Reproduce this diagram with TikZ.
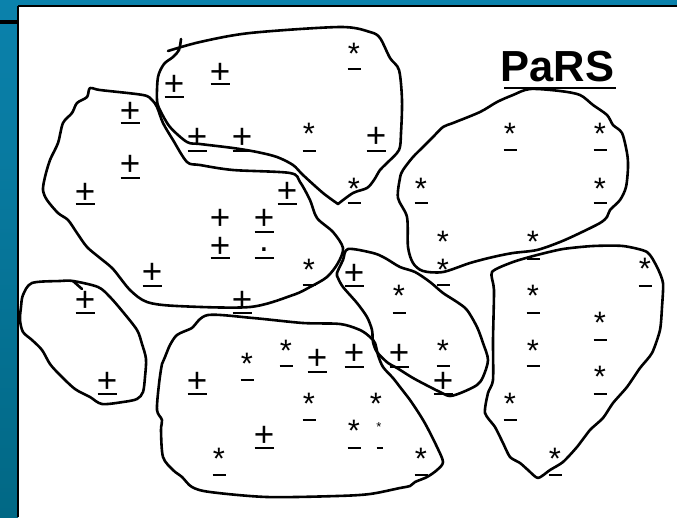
\documentclass[tikz,border=0pt]{standalone}
\usepackage{fontspec}
\setmainfont{Liberation Sans}
\definecolor{bluetop}{RGB}{11,130,172}
\definecolor{bluebot}{RGB}{1,104,133}
\tikzset{
  blob/.style={draw=black, line width=2.6pt, line join=round, line cap=round},
  psym/.style={font=\fontsize{35}{35}\selectfont, anchor=base, inner sep=0pt, yshift=-12.4pt},
  ssym/.style={font=\fontsize{31}{31}\selectfont, anchor=base, inner sep=0pt, yshift=-17.8pt},
  ul/.style={line width=2.6pt},
}
\begin{document}
\begin{tikzpicture}[x=1pt,y=-1pt]
\useasboundingbox (0,0) rectangle (677,517);
% slide frame
\fill[bluetop] (0,0) rectangle (677,6);
\shade[top color=bluetop, bottom color=bluebot] (0,0) rectangle (18,517);
\fill[white] (18,6) rectangle (677,517);
\draw[line width=1.6pt] (17.8,5.8) -- (677,5.8);
\draw[line width=1.6pt] (17.8,5.8) -- (17.8,517);
\fill[black] (0,20) rectangle (17.8,24);

% blob A (top middle)
\draw[blob] plot[smooth, tension=0.5] coordinates {(181,39) (179,50) (173,57) (164,64) (158,77) (157,100) (160,110) (170,127) (187,142) (200,144) (233,148) (257,152) (277,157) (293,165) (303,175) (323,193) (338,204)}
  -- plot[smooth, tension=0.5] coordinates {(338,204) (353,193) (367,188) (374,180) (380,170) (387,163) (399,150) (401,133) (402,100) (399,70) (390,58) (380,38) (370,32) (340,27) (250,33) (200,42) (168,51)};
% blob C (large left)
\draw[blob] plot[smooth cycle, tension=0.5] coordinates {(90,88) (100,90) (143,95) (152,100) (157,107) (163,123) (173,140) (187,162) (200,165) (233,170) (290,173) (300,182) (310,200) (317,218) (333,232) (343,248) (338,263) (327,277) (310,287) (293,295) (250,307) (177,306) (147,302) (130,290) (113,269) (100,258) (87,247) (77,233) (68,220) (58,213) (47,200) (43,190) (45,177) (50,160) (58,143) (63,123) (72,113) (77,103) (87,97)};
% blob D (small left)
\draw[blob] plot[smooth cycle, tension=0.5] coordinates {(73,281) (60,281) (32,283) (23,295) (21,307) (20,320) (23,332) (32,340) (42,350) (50,364) (60,375) (75,389) (90,397) (102,404) (123,402) (137,399) (143,392) (145,377) (146,359) (142,344) (137,330) (123,312) (110,297) (98,287)};
\draw[blob] (73,281) -- (82,289);
% blob E (bottom middle)
\draw[blob] plot[smooth cycle, tension=0.5] coordinates {(208,315) (253,318) (303,323) (340,324) (360,330) (370,337) (375,343) (378,355) (383,367) (393,378) (400,387) (410,400) (420,415) (427,427) (437,447) (443,462) (437,470) (427,477) (415,482) (410,486) (400,488) (370,494) (337,496) (267,497) (210,492) (192,487) (182,477) (173,470) (163,457) (161,430) (162,420) (157,410) (159,384) (162,364) (165,357) (170,345) (177,335) (190,329) (193,327)};
% blob F (middle)
\draw[blob] plot[smooth cycle, tension=0.5] coordinates {(348,249) (373,253) (385,258) (400,267) (415,272) (430,282) (443,293) (457,302) (467,310) (477,327) (483,343) (488,360) (483,377) (477,385) (463,392) (450,396) (440,392) (430,387) (413,378) (397,368) (388,363) (377,352) (373,342) (372,330) (367,317) (357,303) (343,287) (338,278) (337,273) (343,260)};
% blob B (upper right)
\draw[blob] plot[smooth cycle, tension=0.5] coordinates {(530,89) (560,91) (580,95) (593,105) (607,115) (613,125) (622,133) (627,153) (628,167) (626,187) (620,200) (610,210) (607,217) (600,223) (580,233) (560,242) (537,250) (513,253) (493,257) (470,263) (443,272) (423,271) (413,263) (408,247) (407,217) (398,198) (400,178) (403,170) (413,157) (423,147) (433,137) (443,127) (453,123) (480,112) (497,102) (513,95)};
% blob G (right)
\draw[blob] plot[smooth cycle, tension=0.4] coordinates {(492,272) (513,262) (537,255) (563,249) (593,246) (623,246) (647,252) (657,267) (663,283) (662,307) (660,330) (652,353) (640,368) (627,387) (613,403) (603,418) (590,430) (577,447) (563,462) (550,470) (538,478) (528,470) (520,463) (510,457) (503,443) (495,427) (485,413) (488,393) (493,380) (493,340) (494,290)};

% plus symbols with underline
\foreach \x/\y/\u [count=\i] in {174/83/97, 220/71/84, 130/110/123, 130/163/178, 85/191/204, 197/136/151, 242/136/151, 376/135/151, 287/190/204, 264/217/232, 220/245/258, 152/271/286, 242/299/313, 85/299/313, 354/272/286, 107/380/394, 197/380/394, 317/357/372, 354/352/367, 399/352/367, 443/380/394, 264/434/448} {
  \node[psym] (p\i) at (\x,\y) {+};
  \draw[ul] (\x-9.5,\u) -- (\x+9.5,\u);
}
\node[psym] (p0) at (220,217) {+};
\node[font=\fontsize{35}{35}\selectfont, anchor=base, inner sep=0pt] (dot) at (264,251) {.};
\draw[ul] (254.5,258) -- (273.5,258);

% asterisks with underline
\foreach \x/\y/\u [count=\i] in {354/47/69, 309/127/151, 354/182/203, 421/182/203, 510/127/150, 600/127/150, 600/182/203, 533/235/259, 443/263/285, 309/263/285, 645/262/286, 399/289/313, 533/289/313, 600/316/340, 533/344/366, 600/370/394, 443/344/366, 286/344/366, 247/357/380, 309/397/420, 354/424/448, 421/452/475, 219/452/475, 510/397/420, 555/452/475} {
  \node[ssym] (s\i) at (\x,\y) {*};
  \draw[ul] (\x-6.5,\u) -- (\x+6.5,\u);
}
\node[ssym] (s0) at (443,235) {*};
\node[ssym] (s00) at (376,397) {*};
\node[font=\fontsize{13}{13}\selectfont, anchor=base, inner sep=0pt] (tiny) at (379,431) {*};
\draw[line width=2pt] (376.5,448) -- (382.5,448);

% title
\node[font=\bfseries\fontsize{43.5}{43.5}\selectfont, anchor=base west, inner sep=0pt] (title) at (500.5,81) {PaRS};
\draw[line width=2.2pt] (504,88) -- (616,88);
\end{tikzpicture}
\end{document}
